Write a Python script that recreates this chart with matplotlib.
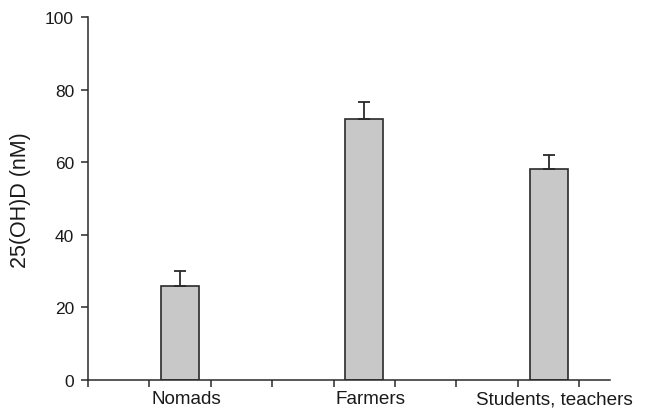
import matplotlib
matplotlib.use('Agg')
import matplotlib.pyplot as plt

plt.rcParams['font.family'] = ['Liberation Sans', 'DejaVu Sans']

# data
groups = ['Nomads', 'Farmers', 'Students, teachers']
means = [26, 72, 58]
errs_up = [4, 4.5, 4]
positions = [1.5, 4.5, 7.5]

fig = plt.figure(figsize=(6.45, 4.14), dpi=100)
ax = fig.add_axes([88 / 645, 1 - 381 / 414, (610 - 88) / 645, (381 - 18) / 414])

ax.bar(positions, means, width=0.62, color='#c8c8c8', edgecolor='#2a2a2a',
       linewidth=1.2, zorder=2)
ax.errorbar(positions, means, yerr=[[0] * len(means), errs_up], fmt='none',
            ecolor='#2a2a2a', elinewidth=1.3, capsize=4, capthick=1.3, zorder=3)

ax.set_xlim(0, 8.5)
ax.set_ylim(0, 100)
ax.set_yticks(range(0, 101, 20))
ax.set_xticks(range(0, 9))
ax.set_xticklabels([])
ax.tick_params(axis='both', colors='#2a2a2a', labelcolor='#1a1a1a',
               labelsize=12.5, length=5, width=1.1, pad=5)

# category labels under the bars
for pos, name in zip(positions, groups):
    ax.text(pos + 0.1, -2.8, name, ha='center', va='top', fontsize=13.6,
            color='#1a1a1a')

for side in ['top', 'right']:
    ax.spines[side].set_visible(False)
for side in ['left', 'bottom']:
    ax.spines[side].set_color('#2a2a2a')
    ax.spines[side].set_linewidth(1.1)

fig.text(21 / 645, 1 - 200 / 414, '25(OH)D (nM)', rotation=90, fontsize=15.5,
         color='#1a1a1a', ha='center', va='center')

plt.savefig('out.png', dpi=100)
